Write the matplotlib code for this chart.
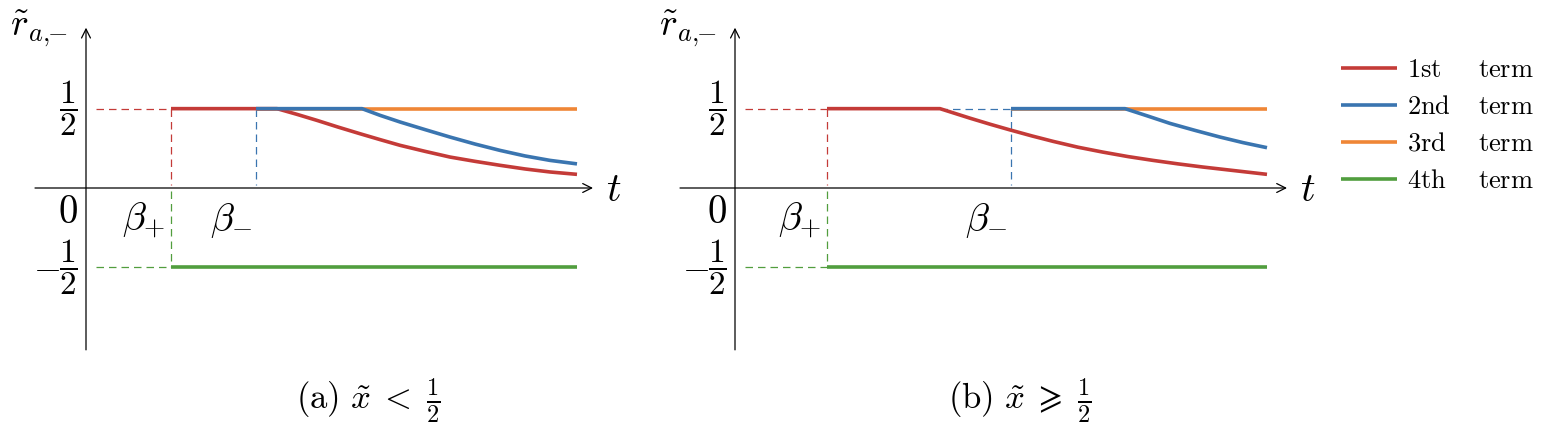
import matplotlib
matplotlib.use("Agg")
import matplotlib.pyplot as plt

plt.rcParams['mathtext.fontset'] = 'cm'
plt.rcParams['font.family'] = ['DejaVu Serif']

# colours
RED = '#c43b38'
BLUE = '#3a75b0'
ORANGE = '#ef8636'
GREEN = '#519e3e'

# ---- data (t in arbitrary units, origin at the vertical axis) ----
terms = ['1st', '2nd', '3rd', '4th']

# panel (a): x < 1/2
beta_plus_a = 0.85
beta_minus_a = 1.70
t_end_a = 4.91
red_a_t = [0.85, 1.91, 2.11, 2.31, 2.52, 2.74, 2.94, 3.14, 3.39, 3.64,
           3.89, 4.14, 4.39, 4.64, 4.91]
red_a_v = [0.5, 0.5, 0.464, 0.426, 0.384, 0.342, 0.305, 0.269, 0.231, 0.195,
           0.168, 0.143, 0.12, 0.101, 0.086]
blue_a_t = [1.70, 2.76, 2.94, 3.14, 3.39, 3.64, 3.89, 4.14, 4.39, 4.64, 4.91]
blue_a_v = [0.5, 0.5, 0.458, 0.416, 0.368, 0.321, 0.277, 0.237, 0.202, 0.174,
            0.152]

# panel (b): x >= 1/2
beta_plus_b = 0.92
beta_minus_b = 2.76
t_end_b = 5.32
red_b_t = [0.92, 2.05, 2.35, 2.55, 2.75, 2.97, 3.18, 3.43, 3.68, 3.93, 4.18,
           4.43, 4.68, 5.0, 5.32]
red_b_v = [0.5, 0.5, 0.44, 0.402, 0.366, 0.328, 0.294, 0.257, 0.226, 0.198,
           0.174, 0.152, 0.132, 0.109, 0.086]
blue_b_t = [2.76, 3.90, 4.12, 4.35, 4.60, 4.85, 5.08, 5.32]
blue_b_v = [0.5, 0.5, 0.455, 0.407, 0.363, 0.321, 0.286, 0.254]

W, H = 1544, 434
fig = plt.figure(figsize=(W / 100, H / 100), dpi=100)


def make_ax(px_left, px_right, px_axis):
    ax = fig.add_axes([px_left / W, 0, (px_right - px_left) / W, 1])
    ax.set_xlim((px_left - px_axis) / 100, (px_right - px_axis) / 100)
    ax.set_ylim((188 - H) / 158.7, 188 / 158.7)
    ax.axis('off')
    return ax


def draw_panel(ax, bp, bm, t_end, red_t, red_v, blue_t, blue_v,
               x_start, x_tip, caption, cap_x, blue_dash_from=None):
    dash = dict(lw=0.9, linestyle=(0, (6, 4)))
    lw = 2.6
    # axes with arrows
    ax.annotate('', xy=(x_tip, 0), xytext=(x_start, 0),
                arrowprops=dict(arrowstyle='->', lw=0.9, color='black',
                                shrinkA=0, shrinkB=0, mutation_scale=16))
    ax.annotate('', xy=(0, 1.01), xytext=(0, -1.02),
                arrowprops=dict(arrowstyle='->', lw=0.9, color='black',
                                shrinkA=0, shrinkB=0, mutation_scale=16))
    # guides
    ax.plot([0.1, bp], [0.5, 0.5], color=RED, **dash)
    ax.plot([bp, bp], [0.5, 0.02], color=RED, **dash)
    ax.plot([bp, bp], [-0.02, -0.5], color=GREEN, **dash)
    ax.plot([0.1, bp], [-0.5, -0.5], color=GREEN, **dash)
    ax.plot([bm, bm], [0.5, 0.02], color=BLUE, **dash)
    if blue_dash_from is not None:
        ax.plot([blue_dash_from, bm], [0.5, 0.5], color=BLUE, **dash)
    # terms
    ax.plot([bm, t_end], [0.5, 0.5], color=ORANGE, lw=lw, zorder=3,
            solid_capstyle='butt', label=r'$\mathrm{3rd}$')
    ax.plot(red_t, red_v, color=RED, lw=lw, zorder=4,
            solid_capstyle='butt', label=r'$\mathrm{1st}$')
    ax.plot(blue_t, blue_v, color=BLUE, lw=lw, zorder=5,
            solid_capstyle='butt', label=r'$\mathrm{2nd}$')
    ax.plot([bp, t_end], [-0.5, -0.5], color=GREEN, lw=lw, zorder=3,
            solid_capstyle='butt', label=r'$\mathrm{4th}$')
    # labels
    ax.text(-0.18, 0.964, r'$\tilde{r}_{a,\!\!\!-}$', fontsize=27,
            ha='right', va='baseline')
    ax.text(-0.08, 0.5, r'$\dfrac{1}{2}$', fontsize=24, ha='right',
            va='center')
    ax.text(-0.08, -0.5, r'$\dfrac{1}{2}$', fontsize=24, ha='right',
            va='center')
    ax.text(-0.26, -0.5, r'$-$', fontsize=26, ha='right', va='center')
    ax.text(-0.08, -0.22, r'$0$', fontsize=28, ha='right', va='baseline')
    ax.text(bp - 0.27, -0.265, r'$\beta_{+}$', fontsize=28,
            ha='center', va='baseline')
    ax.text(bm - 0.25, -0.265, r'$\beta_{-}$', fontsize=28,
            ha='center', va='baseline')
    ax.text(x_tip + 0.13, -0.08, r'$t$', fontsize=29, ha='left', va='baseline')
    ax.text(cap_x, -1.34, caption, fontsize=25, ha='center', va='center')


ax_a = make_ax(0, 650, 86)
draw_panel(ax_a, beta_plus_a, beta_minus_a, t_end_a, red_a_t, red_a_v,
           blue_a_t, blue_a_v, -0.51, 5.07,
           r'$\mathrm{(a)}\ \tilde{x}\; <\; \frac{1}{2}$', 2.82)

ax_b = make_ax(650, 1320, 735)
draw_panel(ax_b, beta_plus_b, beta_minus_b, t_end_b, red_b_t, red_b_v,
           blue_b_t, blue_b_v, -0.55, 5.52,
           r'$\mathrm{(b)}\ \tilde{x}\; \geqslant\; \frac{1}{2}$', 2.85,
           blue_dash_from=red_b_t[1])

handles, labels = ax_a.get_legend_handles_labels()
order = [labels.index(r'$\mathrm{%s}$' % s) for s in terms]
leg = fig.legend([handles[i] for i in order], [labels[i] for i in order],
                 loc='upper left', bbox_to_anchor=(1328 / W, 1 - 44 / H),
                 frameon=False, fontsize=19, handlelength=2.1,
                 handletextpad=0.4, labelspacing=0.45, borderpad=0)

fig.canvas.draw()
inv = fig.transFigure.inverted()
for txt in leg.get_texts():
    bb = txt.get_window_extent()
    _, yc = inv.transform((0, (bb.y0 + bb.y1) / 2))
    fig.text(1478 / W, yc, r'$\mathrm{term}$', fontsize=19, va='center')

fig.savefig('out.png', dpi=100)
